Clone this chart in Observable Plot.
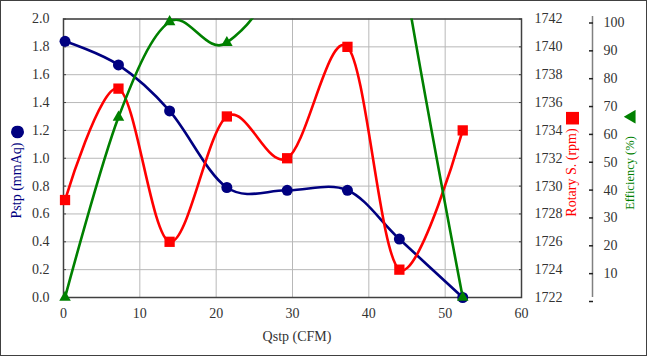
<!DOCTYPE html>
<html>
<head>
<meta charset="utf-8">
<script src="https://cdn.jsdelivr.net/npm/d3@7"></script>
<script src="https://cdn.jsdelivr.net/npm/@observablehq/plot@0.6"></script>
<style>
  html, body { margin: 0; padding: 0; background: #fff; }
  #wrap { position: relative; width: 647px; height: 356px; overflow: hidden; background: #fff; font-family: "Liberation Serif", "Times New Roman", serif; }
  #chart svg text { font-family: "Liberation Serif", "Times New Roman", serif; }
  #border { position: absolute; left: 0; top: 0; width: 647px; height: 356px; box-sizing: border-box; border: 1.5px solid #404040; pointer-events: none; }
  .ttl { position: absolute; white-space: nowrap; font-size: 14px; display: flex; align-items: center; line-height: 1; font-family: "Liberation Serif", "Times New Roman", serif; }
  .rot { transform: translate(-50%, -50%) rotate(-90deg); }
  .sym { display: inline-block; }
</style>
</head>
<body>
<div id="wrap">
  <div id="chart"></div>
  <div id="border"></div>
</div>
<script>
// ---- data ----
const qstp       = [0.2, 7.2, 13.9, 21.4, 29.3, 37.2, 44.0, 52.3];
const pstp       = [1.84, 1.67, 1.34, 0.79, 0.77, 0.77, 0.42, 0.0];
const rotary     = [1729, 1737, 1726, 1735, 1732, 1740, 1724, 1734];
const efficiency = [0, 64.7, 99, 91.5, 130, 254, 126, 0];   // >100 values run off the top of the chart

const xTicks    = [0, 10, 20, 30, 40, 50, 60];
const pstpTicks = [0, 0.2, 0.4, 0.6, 0.8, 1.0, 1.2, 1.4, 1.6, 1.8, 2.0];
const rpmTicks  = [1722, 1724, 1726, 1728, 1730, 1732, 1734, 1736, 1738, 1740, 1742];
const effTicks  = [0, 10, 20, 30, 40, 50, 60, 70, 80, 90, 100];

const xTitle   = "Qstp (CFM)";
const pTitle   = "Pstp (mmAq)";
const rTitle   = "Rotary S. (rpm)";
const eTitle   = "Efficiency (%)";

const cBlue = "#000080", cRed = "#ff0000", cGreen = "#008000";

// map secondary series onto the primary y scale (0..2)
const rpmMin = 1722, rpmSpan = 20, effSpan = 100, pMax = 2;
const fromRpm = r => (r - rpmMin) / rpmSpan * pMax;
const fromEff = e => e / effSpan * pMax;

const rows = qstp.map((q, i) => ({q, p: pstp[i], r: rotary[i], e: efficiency[i]}));

const W = 647, H = 356;
const mL = 63, mR = 126, mT = 18.5, mB = 59;

const chart = Plot.plot({
  width: W, height: H,
  marginLeft: mL, marginRight: mR, marginTop: mT, marginBottom: mB,
  style: {fontFamily: "Liberation Serif, serif", fontSize: "14px", color: "#333", background: "#fff", overflow: "visible"},
  x: {domain: [0, 60]},
  y: {domain: [0, pMax]},
  marks: [
    Plot.gridX(xTicks, {stroke: "#b8b8b8", strokeOpacity: 1, strokeWidth: 1}),
    Plot.gridY(pstpTicks, {stroke: "#b8b8b8", strokeOpacity: 1, strokeWidth: 1}),
    // bottom axis
    Plot.axisX(xTicks, {anchor: "bottom", tickSize: 0, tickPadding: 11, tickFormat: d => String(d), label: null, fill: "#333"}),
    // left axis
    Plot.axisY(pstpTicks, {anchor: "left", tickSize: 0, tickPadding: 14, tickFormat: d3.format(".1f"), label: null, fill: "#333"}),
    Plot.axisY(pstpTicks, {anchor: "left", tickSize: 3, dx: 3, text: null, label: null, stroke: "#404040"}),
    // right axis 1: rotary speed
    Plot.axisY(rpmTicks.map(fromRpm), {anchor: "right", tickSize: 0, tickPadding: 13, tickFormat: d => String(Math.round(rpmMin + d / pMax * rpmSpan)), label: null, fill: "#333"}),
    Plot.axisY(rpmTicks.map(fromRpm), {anchor: "right", tickSize: 3, dx: -3, text: null, label: null, stroke: "#404040"}),
    // right axis 2: efficiency
    Plot.ruleX([60], {dx: 71, insetTop: -2.5, stroke: "#808080", strokeWidth: 1.5}),
    Plot.axisY(effTicks.map(fromEff), {anchor: "right", dx: 67, tickSize: 4, tickPadding: 11, dy: 4,
      tickFormat: d => { const v = Math.round(d / pMax * effSpan); return v === 0 ? "" : String(v); },
      label: null, stroke: "#202020", strokeWidth: 1.5, fill: "#333"}),
    Plot.frame({stroke: "#404040", strokeWidth: 1.5}),
    // series lines
    Plot.line(rows, {x: "q", y: "p", curve: "cardinal", tension: 0, stroke: cBlue, strokeWidth: 2.6}),
    Plot.line(rows, {x: "q", y: d => fromRpm(d.r), curve: "cardinal", tension: 0, stroke: cRed, strokeWidth: 2.6}),
    Plot.line(rows, {x: "q", y: d => fromEff(d.e), curve: "cardinal", tension: 0, stroke: cGreen, strokeWidth: 2.6, clip: true}),
    // markers
    Plot.dot(rows, {x: "q", y: "p", symbol: "circle", r: 5.5, fill: cBlue, stroke: "none"}),
    Plot.dot(rows, {x: "q", y: d => fromRpm(d.r), symbol: "square", r: 5.8, fill: cRed, stroke: "none"}),
    Plot.dot(rows.filter(d => d.e <= effSpan), {x: "q", y: d => fromEff(d.e), symbol: "triangle", r: 4.3, fill: cGreen, stroke: "none"})
  ]
});
document.getElementById("chart").appendChild(chart);

// titles
const wrap = document.getElementById("wrap");
function addTitle(cx, cy, text, color, symHtml, gap, fontSize, rotate) {
  const d = document.createElement("div");
  d.className = "ttl" + (rotate ? " rot" : "");
  d.style.left = cx + "px";
  d.style.top = cy + "px";
  d.style.color = color;
  d.style.fontSize = fontSize + "px";
  if (!rotate) d.style.transform = "translate(-50%, -50%)";
  const t = document.createElement("span");
  t.textContent = text;
  d.appendChild(t);
  if (symHtml) {
    const s = document.createElement("span");
    s.className = "sym";
    s.style.marginLeft = gap + "px";
    s.innerHTML = symHtml;
    d.appendChild(s);
  }
  wrap.appendChild(d);
}
addTitle(297, 337, xTitle, "#333", null, 0, 14, false);
addTitle(17, 172, pTitle, cBlue,
  '<svg width="13" height="13" style="display:block"><circle cx="6.5" cy="6.5" r="6.5" fill="' + cBlue + '"/></svg>', 4, 14, true);
addTitle(572, 164, rTitle, cRed,
  '<svg width="13" height="13" style="display:block"><rect x="0" y="0" width="13" height="13" fill="' + cRed + '"/></svg>', 4, 14, true);
addTitle(630, 160, eTitle, cGreen,
  '<svg width="14" height="12" style="display:block"><polygon points="7,0 14,12 0,12" fill="' + cGreen + '"/></svg>', 12, 12.5, true);
</script>
</body>
</html>
